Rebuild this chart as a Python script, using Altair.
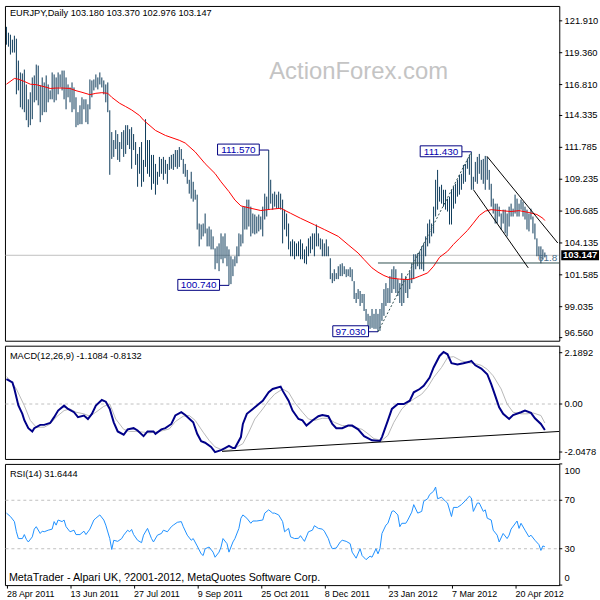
import altair as alt
import pandas as pd

# ---------------- data ----------------
highs = [
    121.43, 120.96, 120.80, 120.40, 120.72, 120.48, 118.73, 117.78, 117.70, 118.01,
    116.82, 115.63, 116.19, 117.38, 117.54, 118.41, 118.33, 116.74, 117.38, 116.98,
    117.54, 116.82, 116.34, 117.78, 117.62, 117.38, 117.78, 117.62, 117.93, 117.93,
    117.38, 116.82, 116.58, 116.98, 116.58, 115.79, 114.60, 115.15, 115.79, 115.63,
    115.63, 115.23, 117.22, 117.14, 117.22, 117.62, 117.38, 117.78, 117.38, 117.14,
    116.82, 116.98, 114.75, 113.01, 112.37, 113.16, 112.85, 112.21, 113.01, 113.16,
    113.56, 113.56, 113.24, 113.40, 112.85, 112.21, 111.26, 111.81, 112.21, 110.78,
    114.04, 112.37, 112.37, 111.18, 111.18, 110.46, 109.83, 111.02, 110.86, 111.02,
    110.78, 110.46, 111.02, 111.18, 111.26, 111.57, 111.57, 111.81, 111.65, 110.86,
    110.46, 109.98, 109.19, 109.83, 109.03, 108.39, 108.00, 105.69, 105.61, 105.69,
    106.49, 105.29, 105.45, 105.21, 104.66, 103.70, 103.86, 104.10, 104.90, 104.66,
    104.90, 103.86, 103.62, 103.07, 102.83, 103.07, 103.86, 104.90, 104.82, 107.04,
    107.04, 107.60, 107.60, 107.04, 106.49, 106.41, 106.25, 106.41, 106.25, 107.04,
    108.08, 107.84, 111.57, 109.19, 108.08, 108.24, 108.00, 108.24, 108.08, 107.60,
    106.80, 106.49, 105.69, 104.26, 104.42, 104.26, 104.10, 104.26, 104.42, 104.10,
    103.62, 103.86, 104.50, 104.66, 104.90, 104.90, 105.61, 104.90, 104.50, 104.42,
    104.10, 104.42, 103.86, 102.91, 101.72, 102.03, 101.72, 102.27, 102.43, 102.51,
    102.27, 102.03, 102.03, 102.19, 102.03, 101.08, 100.13, 100.44, 100.29, 100.05,
    100.05, 98.85, 98.46, 98.30, 98.85, 98.46, 98.85, 98.46, 98.85, 99.33,
    100.44, 100.92, 100.52, 101.48, 102.03, 102.27, 102.03, 101.24, 100.92, 101.72,
    101.24, 101.48, 101.24, 101.88, 102.51, 103.23, 103.23, 103.31, 103.47, 103.86,
    104.10, 104.66, 105.69, 106.01, 105.69, 107.04, 109.19, 109.98, 108.63, 108.79,
    108.39, 108.39, 107.68, 107.84, 108.39, 108.63, 108.87, 109.19, 109.59, 109.67,
    110.38, 110.46, 110.86, 111.18, 111.43, 109.43, 110.62, 111.02, 111.26, 110.78,
    110.86, 111.10, 111.02, 109.98, 108.87, 107.68, 107.28, 107.28, 107.04, 106.49,
    106.80, 106.80, 106.49, 107.04, 107.28, 106.88, 108.00, 107.68, 107.28, 107.60,
    107.44, 107.04, 106.80, 106.49, 106.88, 106.25, 105.69, 104.50, 103.86, 103.86,
    103.62, 103.37,
]
lows = [
    120.00, 119.84, 119.21, 119.37, 119.37, 116.03, 116.34, 114.99, 114.83, 114.60,
    113.96, 113.40, 113.56, 114.04, 115.39, 115.55, 115.15, 113.80, 114.36, 114.60,
    114.60, 115.39, 115.63, 115.63, 115.39, 115.55, 116.03, 116.58, 116.34, 115.63,
    114.83, 115.79, 115.39, 114.60, 114.83, 113.40, 113.56, 113.64, 113.64, 114.83,
    113.80, 113.64, 114.83, 115.79, 116.34, 116.58, 116.42, 116.82, 116.58, 116.03,
    115.39, 114.60, 109.59, 110.86, 111.02, 111.65, 110.78, 110.62, 111.65, 111.02,
    111.26, 111.97, 111.65, 110.07, 111.57, 110.38, 108.63, 109.67, 108.63, 109.03,
    110.22, 109.67, 109.43, 108.39, 108.87, 108.00, 108.79, 109.43, 109.67, 109.19,
    109.67, 108.87, 109.98, 110.07, 109.98, 110.22, 110.07, 110.22, 110.78, 109.67,
    109.43, 108.87, 108.08, 107.68, 107.44, 107.60, 105.21, 103.86, 104.42, 104.66,
    104.90, 103.86, 103.86, 103.62, 103.62, 102.03, 102.51, 101.88, 102.83, 102.51,
    102.91, 102.27, 100.74, 100.84, 101.48, 102.27, 102.51, 103.07, 103.86, 104.10,
    105.21, 105.21, 105.45, 104.66, 104.90, 104.82, 104.90, 105.06, 105.21, 104.66,
    106.01, 106.25, 106.80, 107.28, 106.80, 107.04, 106.88, 106.88, 106.80, 104.10,
    105.21, 104.66, 103.62, 103.07, 103.07, 102.83, 103.07, 103.07, 102.83, 102.83,
    102.51, 102.43, 103.07, 103.31, 103.62, 103.07, 103.86, 103.86, 103.62, 103.07,
    103.07, 103.07, 103.07, 101.24, 100.92, 101.08, 101.24, 101.24, 101.48, 101.48,
    101.64, 101.40, 101.48, 101.40, 101.08, 99.65, 99.33, 99.65, 99.09, 99.33,
    98.69, 97.90, 97.10, 97.26, 97.34, 97.26, 97.26, 97.03, 97.10, 97.90,
    98.30, 99.09, 99.33, 99.33, 100.13, 100.44, 100.13, 99.89, 99.33, 99.09,
    99.33, 100.13, 99.73, 100.44, 100.92, 101.24, 102.03, 102.27, 102.03, 102.03,
    101.88, 103.07, 103.86, 104.10, 104.66, 104.90, 106.25, 106.80, 107.44, 107.28,
    107.04, 106.80, 106.65, 105.61, 105.61, 106.88, 107.28, 107.84, 108.00, 108.39,
    108.87, 109.03, 110.07, 109.59, 108.39, 108.39, 109.03, 108.87, 109.67, 109.19,
    108.87, 108.39, 109.19, 108.39, 107.04, 106.49, 105.69, 105.69, 106.25, 105.21,
    105.69, 104.90, 104.66, 105.45, 106.25, 106.25, 106.49, 106.25, 106.25, 106.80,
    106.25, 106.01, 105.21, 105.06, 106.01, 104.90, 104.42, 103.07, 103.07, 102.51,
    102.83, 102.976,
]

ma_i = [0, 4, 6, 9, 12, 15, 19, 22, 25, 28, 32, 35, 38, 42, 45, 48, 51, 53, 57, 60,
        63, 67, 69, 75, 80, 87, 90, 95, 100, 105, 108, 112, 115, 118, 123, 128, 133, 138, 143, 148,
        155, 160, 167, 172, 177, 180, 184, 187, 190, 193, 198, 202, 205, 208, 212, 215, 218, 222, 225, 228,
        232, 235, 238, 241, 244, 249, 254, 258, 263, 267, 270, 271]
ma_v = [116.84, 117.30, 117.24, 117.06, 116.84, 116.80, 116.64, 116.50, 116.53, 116.53,
        116.50, 116.32, 116.19, 116.00, 116.11, 116.16, 116.11, 115.79, 115.31, 115.05,
        114.78, 114.33, 113.96, 113.14, 112.74, 112.35, 112.13, 111.42, 110.48, 109.69,
        109.03, 108.24, 107.57, 107.10, 106.91, 106.73, 106.83, 106.91, 106.51, 106.11,
        105.59, 105.21, 104.66, 103.99, 103.33, 102.81, 102.14, 101.80, 101.53, 101.34,
        101.24, 101.21, 101.29, 101.48, 101.74, 102.27, 102.99, 103.47, 104.02, 104.50,
        105.13, 105.72, 106.33, 106.68, 106.80, 106.72, 106.65, 106.72, 106.57, 106.41,
        106.11, 105.93]

macd_i = [0, 3, 4, 6, 8, 9, 11, 13, 14, 17, 19, 22, 24, 26, 29, 31, 34, 36, 39, 41,
          43, 45, 48, 50, 52, 54, 56, 59, 61, 64, 66, 69, 71, 74, 75, 78, 80, 83, 85, 88,
          90, 93, 94, 96, 98, 100, 103, 105, 108, 110, 112, 114, 115, 118, 119, 121, 124, 127, 129, 132,
          134, 138, 139, 142, 144, 147, 149, 151, 154, 157, 159, 162, 164, 166, 169, 172, 174, 177, 180, 184,
          188, 189, 192, 194, 197, 200, 203, 205, 208, 210, 213, 215, 218, 220, 222, 224, 227, 230, 233, 234,
          236, 239, 242, 244, 246, 248, 250, 253, 255, 259, 261, 264, 266, 269, 271]
macd_v = [1.06, 0.92, 0.64, -0.06, -0.42, -0.69, -1.03, -1.17, -1.03, -0.89,
          -0.89, -0.81, -0.56, -0.28, -0.07, -0.21, -0.35, -0.56, -0.49, -0.64,
          -0.42, -0.07, 0.17, 0.10, -0.21, -0.78, -1.17, -1.31, -1.08, -1.03,
          -1.13, -1.37, -1.17, -1.17, -1.27, -1.08, -1.03, -0.85, -0.49, -0.35,
          -0.47, -0.70, -0.78, -1.27, -1.59, -1.65, -1.83, -2.05, -1.97, -1.88,
          -1.79, -1.88, -1.88, -1.41, -0.85, -0.42, -0.21, 0.00, 0.14, 0.50,
          0.64, 0.74, 0.57, 0.14, -0.28, -0.64, -0.70, -0.92, -0.70, -0.52,
          -0.47, -0.52, -0.85, -1.03, -1.03, -0.92, -0.92, -1.08, -1.37, -1.55,
          -1.58, -1.41, -0.70, -0.21, 0.00, 0.00, 0.14, 0.50, 0.64, 0.78,
          1.13, 1.56, 2.05, 2.22, 2.12, 1.74, 1.69, 1.74, 1.80, 1.84,
          1.65, 1.51, 1.27, 0.85, 0.36, -0.14, -0.42, -0.64, -0.47, -0.35,
          -0.28, -0.38, -0.61, -0.85, -1.11]

sig_i = [0, 2, 5, 9, 12, 15, 19, 22, 25, 29, 32, 35, 39, 42, 45, 49, 52, 55, 59, 62,
         65, 69, 72, 75, 79, 82, 85, 89, 92, 95, 99, 102, 105, 109, 112, 115, 119, 122, 125, 129,
         132, 135, 139, 142, 145, 149, 152, 155, 159, 162, 165, 169, 172, 175, 179, 182, 185, 189, 192, 195,
         199, 202, 205, 209, 212, 215, 219, 222, 225, 229, 232, 235, 239, 242, 245, 249, 252, 255, 259, 262,
         265, 269, 271]
sig_v = [1.17, 1.00, 0.64, -0.07, -0.70, -0.99, -0.99, -0.85, -0.56, -0.28,
         -0.21, -0.35, -0.42, -0.52, -0.35, -0.10, 0.00, -0.64, -1.08, -1.17,
         -1.17, -1.20, -1.23, -1.20, -1.13, -1.06, -0.75, -0.52, -0.49, -0.70,
         -1.20, -1.55, -1.83, -1.97, -1.97, -1.88, -1.69, -1.20, -0.64, -0.21,
         0.14, 0.42, 0.64, 0.50, 0.07, -0.35, -0.64, -0.70, -0.61, -0.61,
         -0.78, -0.92, -0.92, -0.99, -1.08, -1.27, -1.48, -1.55, -1.34, -0.78,
         -0.21, 0.04, 0.21, 0.42, 0.71, 1.13, 1.56, 1.98, 2.02, 1.84,
         1.77, 1.74, 1.65, 1.48, 1.20, 0.64, 0.00, -0.35, -0.42, -0.42,
         -0.38, -0.49, -0.81]

rsi_i = [0, 2, 4, 5, 6, 8, 9, 10, 11, 13, 14, 15, 17, 18, 19, 21, 23, 24, 25, 26,
         28, 29, 30, 32, 34, 35, 37, 39, 40, 42, 44, 45, 47, 49, 50, 52, 53, 54, 56, 58,
         59, 61, 62, 63, 64, 66, 68, 69, 71, 73, 74, 76, 78, 79, 81, 83, 84, 86, 88, 89,
         91, 93, 94, 96, 98, 99, 100, 102, 104, 105, 107, 108, 109, 111, 112, 114, 115, 117, 118, 119,
         121, 123, 124, 126, 129, 130, 132, 134, 135, 137, 139, 140, 142, 143, 145, 147, 148,
         149, 150, 152, 154, 155, 157, 159, 160, 162, 163, 164, 166, 168, 169, 171, 173, 174, 176, 178, 179,
         181, 183, 184, 186, 187, 188, 189, 191, 192, 194, 195, 197, 198, 199, 201, 202, 204, 205, 207, 209,
         210, 212, 213, 215, 216, 217, 219, 221, 222, 224, 225, 227, 229, 231, 233, 234, 235, 237, 238, 240,
         241, 242, 244, 245, 247, 248, 250, 252, 253, 254, 257, 258, 259, 261, 263, 264, 266, 268, 269, 270, 271]
rsi_v = [59.4, 56.6, 52.4, 44.0, 38.4, 38.4, 41.7, 37.8, 35.6, 39.8,
         46.2, 48.2, 42.6, 44.5, 44.0, 45.3, 46.2, 52.4, 49.5, 53.7,
         52.4, 53.7, 48.2, 44.0, 45.3, 41.7, 41.7, 44.5, 41.7, 46.2,
         53.7, 55.2, 57.9, 53.7, 49.5, 38.4, 29.4, 37.0, 36.1, 38.4,
         41.2, 45.3, 44.0, 45.9, 41.7, 37.0, 35.0, 41.2, 46.8, 38.4,
         35.6, 41.2, 42.6, 45.3, 44.0, 48.2, 49.5, 51.8, 52.4, 48.2,
         41.2, 37.0, 38.4, 32.3, 25.8, 24.4, 30.0, 31.4, 27.2, 23.0,
         27.2, 31.4, 38.4, 34.2, 27.2, 35.6, 38.4, 46.8, 55.2, 57.9,
         55.2, 51.0, 52.9, 52.9, 53.7, 59.4, 62.1, 59.4, 59.4, 57.9,
         52.4, 44.0, 46.8, 39.8, 38.4, 38.6, 40.8,
         38.4, 36.1, 44.0, 45.3, 49.0, 46.8, 46.2, 44.5, 38.4, 33.4,
         30.0, 30.6, 35.6, 37.0, 36.1, 34.2, 27.2, 22.2, 30.0, 24.4,
         21.0, 23.9, 23.0, 30.0, 25.8, 30.0, 42.6, 49.5, 51.0, 60.8,
         61.3, 57.9, 48.2, 51.0, 51.0, 53.7, 60.2, 66.4, 59.4, 60.8,
         69.1, 71.3, 74.7, 77.5, 80.9, 71.3, 72.5, 69.1, 67.7, 56.6,
         64.1, 64.1, 66.4, 69.7, 73.4, 71.9, 60.8, 67.7, 67.7, 60.8,
         62.1, 55.2, 53.7, 45.3, 41.2, 35.6, 42.6, 38.4, 41.2, 46.2,
         52.9, 46.8, 51.0, 45.3, 39.8, 41.2, 37.0, 33.4, 28.6, 32.3, 31.64]

date_ticks = [0, 32, 64, 96, 128, 160, 192, 224, 256]
date_labels = ["28 Apr 2011", "13 Jun 2011", "27 Jul 2011", "9 Sep 2011", "25 Oct 2011",
               "8 Dec 2011", "23 Jan 2012", "7 Mar 2012", "20 Apr 2012"]
price_ticks = [96.560, 99.035, 101.585, 104.135, 106.685, 109.235, 111.785,
               114.335, 116.810, 119.360, 121.910]
macd_ticks = [2.1892, 0.0, -2.0478]
rsi_ticks = [100, 70, 30, 0]
rsi_levels = [70, 30]
last_ohlc = [103.180, 103.370, 102.976, 103.147]
swing_i = [132, 112, 187, 234]
swing_p = [111.570, 100.740, 97.030, 111.430]
swing_txt = ["111.570", "100.740", "97.030", "111.430"]
fib_i = [187, 234]
fib_p = [97.030, 111.430]
fib_ratio = 0.618
chan_grp = ["upper", "upper", "lower", "lower"]
chan_i = [241.85, 277.5, 235.15, 262.65]
chan_p = [111.07, 104.13, 108.37, 102.14]
macd_trend_i = [108.5, 278.25]
macd_trend_v = [-2.02, -1.17]
macd_last = [-1.1084, -0.8132]
rsi_last = 31.6444

# ---------------- styling ----------------
FONT = "Liberation Sans"
BAR = "#0d3a5a"
W = 558
X_DOM = [-0.75, 278.25]
P_DOM = [96.31, 123.10]
xs = alt.Scale(domain=X_DOM, nice=False, zero=False)
ps = alt.Scale(domain=P_DOM, nice=False, zero=False)
ms = alt.Scale(domain=[-2.343, 2.487], nice=False, zero=False)
rs = alt.Scale(domain=[0, 100], nice=False, zero=False)
NOX = alt.X("i:Q", scale=xs, axis=None)
LAB_SIZE = 9.4


def txt(s, x, y, size=9.3, color="black", align="left", baseline="middle", **kw):
    return alt.Chart(pd.DataFrame({"t": [s]})).mark_text(
        align=align, baseline=baseline, font=FONT, fontSize=size, color=color, **kw
    ).encode(x=alt.value(x), y=alt.value(y), text="t:N")


def hline(values, scale, **mark):
    # horizontal level line kept inside the panel (so it does not widen the panel bounds)
    return alt.Chart(pd.DataFrame({"v": values})).mark_rule(**mark).encode(
        x=alt.value(0.5), x2=alt.value(W - 0.5), y=alt.Y("v:Q", scale=scale, axis=None))


def right_axis(values, texts, scale, positions=None):
    d = pd.DataFrame({"v": values, "t": texts, "pos": positions if positions is not None else values})
    ticks = alt.Chart(d).mark_rule(color="black", strokeWidth=1).encode(
        x=alt.value(W), x2=alt.value(W + 3), y=alt.Y("v:Q", scale=scale, axis=None))
    labs = alt.Chart(d).mark_text(align="left", baseline="middle", font=FONT, fontSize=LAB_SIZE,
                                  color="black").encode(
        x=alt.value(W + 5.3), y=alt.Y("pos:Q", scale=scale, axis=None), text="t:N")
    return [ticks, labs]


# ---------------- price panel ----------------
bars_df = pd.DataFrame({"i": list(range(len(highs))), "high": highs, "low": lows})
bars = alt.Chart(bars_df).mark_rule(color=BAR, strokeWidth=1).encode(
    x=NOX, y=alt.Y("low:Q", scale=ps, axis=None), y2="high:Q")

ma = alt.Chart(pd.DataFrame({"i": ma_i, "v": ma_v})).mark_line(color="#ff0000", strokeWidth=1).encode(
    x=NOX, y=alt.Y("v:Q", scale=ps, axis=None))

cur = hline([last_ohlc[3]], ps, color="#c0c0c0", strokeWidth=1)

fib_level = fib_p[1] - fib_ratio * (fib_p[1] - fib_p[0])
fib_line = alt.Chart(pd.DataFrame({"a": [fib_i[0]], "b": [X_DOM[1]], "p": [fib_level]})).mark_rule(
    color="#2f4f4f", strokeWidth=1).encode(
    x=alt.X("a:Q", scale=xs, axis=None), x2="b:Q", y=alt.Y("p:Q", scale=ps, axis=None))
fib_txt = alt.Chart(pd.DataFrame({"p": [fib_level], "t": ["61.8"]})).mark_text(
    align="right", baseline="middle", dy=-5, font=FONT, fontSize=10, color="#4a6e8a").encode(
    x=alt.value(W - 2), y=alt.Y("p:Q", scale=ps, axis=None), text="t:N")
fib_trend = alt.Chart(pd.DataFrame({"i": fib_i, "p": fib_p})).mark_line(
    color="#2f4f4f", strokeWidth=1, strokeDash=[2, 2]).encode(
    x=NOX, y=alt.Y("p:Q", scale=ps, axis=None))

chan = alt.Chart(pd.DataFrame({"g": chan_grp, "i": chan_i, "p": chan_p})).mark_line(
    color="black", strokeWidth=1).encode(
    x=NOX, y=alt.Y("p:Q", scale=ps, axis=None), detail="g:N")

lab_rows = []
for bi, bp, bt in zip(swing_i, swing_p, swing_txt):
    xr = bi - 4.75
    xl = xr - 3 * len(bt)
    lab_rows.append({"bi": bi, "p": bp, "t": bt, "xl": xl, "xr": xr, "xc": (xl + xr) / 2})
lab_df = pd.DataFrame(lab_rows)
lab_box = alt.Chart(lab_df).mark_rect(fill="white", stroke="#000080", strokeWidth=1,
                                      yOffset=-6, y2Offset=5).encode(
    x=alt.X("xl:Q", scale=xs, axis=None), x2="xr:Q",
    y=alt.Y("p:Q", scale=ps, axis=None), y2="p:Q")
lab_link = alt.Chart(lab_df).mark_rule(color="#000080", strokeWidth=1).encode(
    x=alt.X("xr:Q", scale=xs, axis=None), x2="bi:Q", y=alt.Y("p:Q", scale=ps, axis=None))
lab_txt = alt.Chart(lab_df).mark_text(font=FONT, fontSize=10, color="#0000b0",
                                      align="center", baseline="middle").encode(
    x=alt.X("xc:Q", scale=xs, axis=None), y=alt.Y("p:Q", scale=ps, axis=None), text="t:N")

cur_df = pd.DataFrame({"p": [last_ohlc[3]], "t": [f"{last_ohlc[3]:.3f}"]})
cur_box = alt.Chart(cur_df).mark_rect(color="black", yOffset=-5, y2Offset=5).encode(
    x=alt.value(W + 2), x2=alt.value(W + 40), y=alt.Y("p:Q", scale=ps, axis=None), y2="p:Q")
cur_txt = alt.Chart(cur_df).mark_text(font=FONT, fontSize=9.5, fontWeight="bold", color="white",
                                      align="center", baseline="middle").encode(
    x=alt.value(W + 21), y=alt.Y("p:Q", scale=ps, axis=None), text="t:N")

watermark = txt("ActionForex.com", 356, 74, size=24, color="#c4c4c4", align="center",
                baseline="alphabetic")
head = txt("EURJPY,Daily  " + " ".join(f"{v:.3f}" for v in last_ohlc), 5, 7)
p_pos = [max(v, P_DOM[0] + 0.6) for v in price_ticks]
p_axis = right_axis(price_ticks, [f"{v:.3f}" for v in price_ticks], ps, positions=p_pos)

price = alt.layer(watermark, cur, bars, ma, fib_line, fib_trend, chan, lab_link, lab_box,
                  lab_txt, fib_txt, *p_axis, cur_box, cur_txt, head).properties(width=W, height=337)

# ---------------- MACD panel ----------------
zero = hline([0.0], ms, color="#c0c0c0", strokeDash=[3, 3])
sig = alt.Chart(pd.DataFrame({"i": sig_i, "v": sig_v})).mark_line(color="#b8b8b8", strokeWidth=1).encode(
    x=NOX, y=alt.Y("v:Q", scale=ms, axis=None))
main = alt.Chart(pd.DataFrame({"i": macd_i, "v": macd_v})).mark_line(color="#000088", strokeWidth=2).encode(
    x=NOX, y=alt.Y("v:Q", scale=ms, axis=None))
mtrend = alt.Chart(pd.DataFrame({"i": macd_trend_i, "v": macd_trend_v})).mark_line(
    color="black", strokeWidth=1, clip=True).encode(x=NOX, y=alt.Y("v:Q", scale=ms, axis=None))
mhead = txt(f"MACD(12,26,9) {macd_last[0]:.4f} {macd_last[1]:.4f}", 5, 10)
m_axis = right_axis(macd_ticks, ["0.00" if v == 0 else f"{v:.4f}" for v in macd_ticks], ms)
macd = alt.layer(zero, sig, main, mtrend, *m_axis, mhead).properties(width=W, height=114)

# ---------------- RSI panel ----------------
lab_expr = " : ".join(f"datum.value == {t} ? '{l}'" for t, l in zip(date_ticks, date_labels)) + " : ''"
lev = hline(rsi_levels, rs, color="#c0c0c0", strokeDash=[3, 3])
rsi_line = alt.Chart(pd.DataFrame({"i": rsi_i, "v": rsi_v})).mark_line(
    color="#1e90ff", strokeWidth=1).encode(
    x=alt.X("i:Q", scale=xs, axis=alt.Axis(values=date_ticks, labelExpr=lab_expr, title=None,
                                           tickSize=3, labelPadding=1, labelAlign="left",
                                           labelFlush=False, labelOverlap=False, labelFont=FONT,
                                           labelFontSize=9, labelColor="black", tickColor="black",
                                           domain=False, grid=False)),
    y=alt.Y("v:Q", scale=rs, axis=None))
rhead = txt(f"RSI(14) {rsi_last:.4f}", 5, 10)
foot = txt("MetaTrader - Alpari UK, ?2001-2012, MetaQuotes Software Corp.", 4, 118, size=10.8,
           baseline="alphabetic")
r_pos = [min(max(v, 5.7), 94.5) for v in rsi_ticks]
r_axis = right_axis(rsi_ticks, [str(v) for v in rsi_ticks], rs, positions=r_pos)
rsi = alt.layer(lev, rsi_line, *r_axis, rhead, foot).properties(width=W, height=122)

chart = alt.vconcat(price, macd, rsi, spacing=3).properties(
    padding={"left": 2, "top": 3, "right": 0, "bottom": 0},
    background="white",
).configure_view(stroke="black", strokeWidth=1).configure_axis(grid=False)

chart.save("out.html", embed_options={"renderer": "svg", "actions": False})
